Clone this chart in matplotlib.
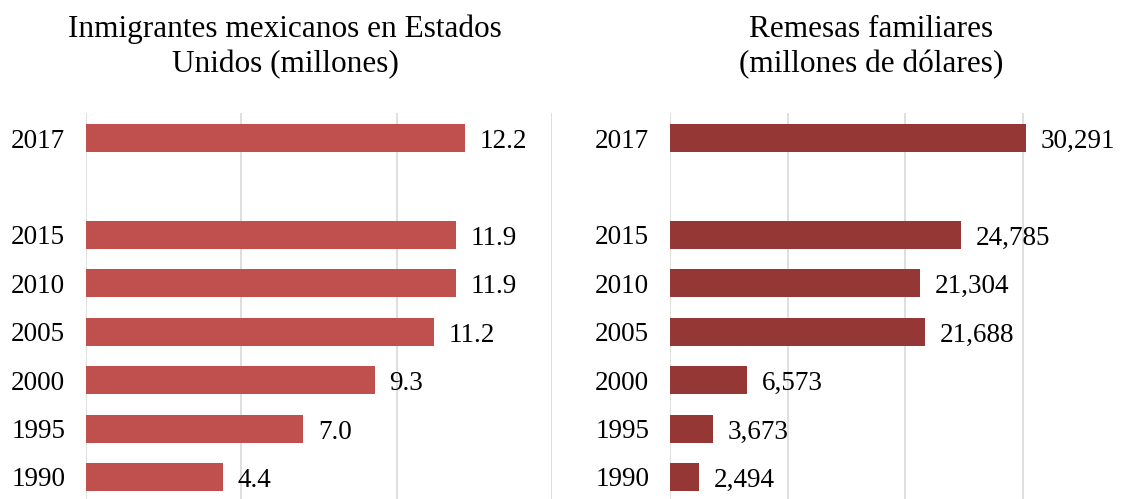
import matplotlib.pyplot as plt

# Data
years = ['1990', '1995', '2000', '2005', '2010', '2015', '2017']
positions = [0, 1, 2, 3, 4, 5, 7]  # gap before 2017
inmigrantes = [4.4, 7.0, 9.3, 11.2, 11.9, 11.9, 12.2]
remesas = [2494, 3673, 6573, 21688, 21304, 24785, 30291]

plt.rcParams['font.family'] = ['Liberation Serif', 'DejaVu Serif']

W, H = 1127, 499
fig = plt.figure(figsize=(W / 100, H / 100), dpi=100)

GRID_COLOR = '#D9D9D9'
FS = 19.5
TITLE_FS = 22.5


def panel(ax, values, color, xmax, ticks, labels):
  ax.barh(positions, values, height=0.58, color=color, zorder=3)
  ax.set_xlim(0, xmax)
  ax.set_ylim(-0.455, 7.52)
  ax.set_xticks(ticks)
  ax.set_xticklabels([])
  ax.set_yticks(positions)
  ax.set_yticklabels(years, fontsize=FS)
  ax.tick_params(axis='both', length=0)
  ax.tick_params(axis='y', pad=15)
  ax.grid(axis='x', color=GRID_COLOR, linewidth=1.2, zorder=0)
  for s in ax.spines.values():
    s.set_visible(False)
  for p, v, lab in zip(positions, values, labels):
    ax.annotate(lab, xy=(v, p), xytext=(10.5, -2.5), textcoords='offset points',
                ha='left', va='center', fontsize=FS)


ax1 = fig.add_axes([86 / W, 0, 466 / W, 386 / H])
panel(ax1, inmigrantes, '#C0504D', 15, [0, 5, 10, 15],
      [f'{v:.1f}' for v in inmigrantes])

ax2 = fig.add_axes([670 / W, 0, 446.5 / W, 386 / H])
panel(ax2, remesas, '#953735', 38000, [0, 10000, 20000, 30000],
      [f'{v:,}' for v in remesas])

fig.text(285 / W, 1 - 47 / H, 'Inmigrantes mexicanos en Estados\nUnidos (millones)',
         ha='center', va='center', fontsize=TITLE_FS, linespacing=1.25)
fig.text(871 / W, 1 - 47 / H, 'Remesas familiares\n(millones de dólares)',
         ha='center', va='center', fontsize=TITLE_FS, linespacing=1.25)

fig.savefig('out.png', dpi=100)
